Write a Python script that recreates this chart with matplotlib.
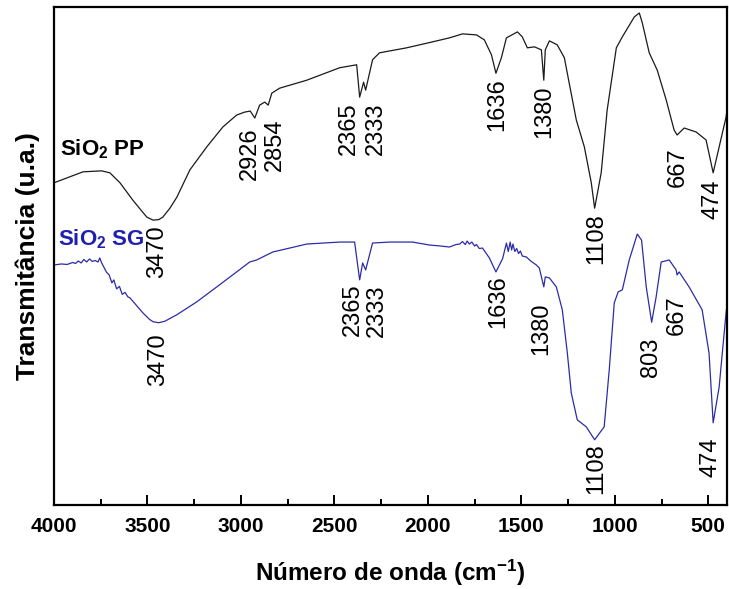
import numpy as np
import matplotlib.pyplot as plt
from matplotlib.ticker import MultipleLocator

plt.rcParams['font.family'] = ['Liberation Sans', 'DejaVu Sans']
plt.rcParams['mathtext.default'] = 'regular'

# Espectro FTIR - SiO2 PP (numero de onda, transmitancia u.a.)
pp_wn = np.array([4000, 3845, 3745, 3701, 3647, 3578, 3530, 3503, 3470, 3440, 3418, 3380, 3343,
                  3273, 3183, 3097, 3023, 2980, 2950, 2926, 2900, 2873, 2854,
                  2835, 2793, 2648, 2472, 2381, 2365, 2344, 2333, 2296, 2259,
                  2114, 1975, 1885, 1815, 1740, 1698, 1660, 1636, 1607, 1580,
                  1521, 1495, 1468, 1430, 1393, 1380, 1372, 1350, 1308, 1270,
                  1244, 1206, 1163, 1126, 1108, 1073, 1041, 992, 960, 896,
                  869, 853, 816, 773, 725, 683, 667, 629, 565, 512,
                  474, 442, 405, 400])
pp_t = np.array([64.7, 66.9, 67.1, 66.7, 64.7, 61.2, 59.0, 57.8, 57.2, 57.3, 57.8, 59.6, 61.8,
                 67.3, 71.9, 75.9, 78.3, 78.9, 79.1, 77.7, 80.3, 80.9, 80.3,
                 82.7, 83.7, 85.3, 87.8, 88.4, 81.9, 84.9, 83.3, 89.4, 90.8,
                 91.8, 93.0, 93.8, 94.6, 94.4, 93.4, 90.4, 86.7, 89.8, 93.8,
                 95.0, 94.0, 91.8, 92.0, 91.4, 85.3, 91.4, 93.2, 92.4, 89.8,
                 84.7, 77.3, 71.9, 64.7, 59.6, 66.7, 79.3, 91.8, 94.0, 98.0,
                 98.8, 96.8, 90.8, 87.3, 81.3, 75.3, 74.3, 75.7, 74.9, 73.3,
                 66.7, 71.9, 77.9, 79.3])

# Espectro FTIR - SiO2 SG
sg_wn = np.array([4000, 3960, 3930, 3900, 3885, 3870, 3855, 3840, 3825, 3810,
                  3795, 3780, 3765, 3755, 3745, 3735, 3720, 3705, 3690, 3680,
                  3665, 3650, 3635, 3620, 3605, 3594, 3525, 3490, 3470, 3440, 3407, 3343,
                  3236, 3129, 3023, 2953, 2916, 2830, 2648, 2472, 2392, 2365,
                  2349, 2333, 2296, 2205, 2082, 1991, 1930, 1885, 1850, 1830,
                  1815, 1800, 1790, 1778, 1765, 1750, 1740, 1725, 1708, 1671,
                  1636, 1600, 1580, 1570, 1560, 1552, 1545, 1535, 1525, 1515,
                  1505, 1495, 1473, 1450, 1420, 1404, 1380, 1372, 1350, 1313,
                  1281, 1254, 1233, 1201, 1153, 1108, 1057, 1030, 1003, 982,
                  960, 923, 880, 857, 832, 803, 779, 752, 709, 672,
                  667, 656, 603, 533, 496, 474, 442, 405, 400])
sg_t = np.array([48.2, 48.4, 48.3, 48.7, 48.5, 49.0, 48.6, 49.3, 48.8, 49.4,
                 48.9, 49.1, 48.8, 49.6, 48.6, 47.9, 46.8, 46.2, 44.6, 45.2,
                 43.4, 43.9, 42.3, 42.7, 41.8, 41.6, 38.6, 37.3, 36.8, 36.6, 36.9, 38.2,
                 40.8, 43.8, 46.8, 48.8, 49.2, 50.8, 52.4, 52.8, 52.8, 45.2,
                 48.6, 47.2, 52.6, 52.8, 52.8, 52.2, 52.0, 51.8, 52.3, 52.4,
                 52.9, 52.3, 53.0, 52.4, 52.8, 52.0, 52.3, 51.5, 51.6, 49.6,
                 46.8, 49.5, 52.6, 50.9, 52.8, 51.2, 52.4, 50.9, 51.5, 50.5,
                 51.0, 50.0, 49.8, 49.0, 48.2, 47.6, 43.8, 45.8, 45.6, 43.8,
                 39.2, 30.5, 22.5, 17.1, 15.7, 13.1, 15.7, 27.1, 40.6, 42.8,
                 43.2, 49.2, 54.4, 53.2, 43.8, 36.7, 41.8, 48.8, 49.2, 47.2,
                 46.2, 46.8, 43.8, 39.2, 30.5, 16.5, 23.7, 38.6, 40.2])

# Bandas indicadas em cada espectro
pp_peaks = ['3470', '2926', '2854', '2365', '2333', '1636', '1380', '1108', '667', '474']
sg_peaks = ['3470', '2365', '2333', '1636', '1380', '1108', '803', '667', '474']

# posicao (x, topo) de cada rotulo de banda
pp_lbl_x = [3450, 2953, 2819, 2424, 2280, 1628, 1377, 1099, 661, 480]
pp_lbl_y = [56.2, 75.9, 77.7, 80.9, 80.9, 85.7, 84.3, 58.6, 71.9, 65.3]
sg_lbl_x = [3444, 2403, 2275, 1623, 1393, 1099, 805, 667, 490]
sg_lbl_y = [34.5, 44.6, 44.2, 46.2, 40.6, 12.4, 33.7, 42.2, 13.5]

azul = '#1f1fb0'

fig = plt.figure(figsize=(7.29, 5.89), dpi=100)
ax = fig.add_axes([54 / 729, 84 / 589, 673 / 729, 498 / 589])

ax.plot(pp_wn, pp_t, color='#1a1a1a', lw=0.9)
ax.plot(sg_wn, sg_t, color='#2c2ca8', lw=0.9)

for txt, x, y in zip(pp_peaks, pp_lbl_x, pp_lbl_y):
    ax.text(x, y, txt, rotation=90, ha='center', va='top', fontsize=17, color='black')
for txt, x, y in zip(sg_peaks, sg_lbl_x, sg_lbl_y):
    ax.text(x, y, txt, rotation=90, ha='center', va='top', fontsize=17, color='black')

ax.text(3968, 70.3, 'SiO$_2$ PP', fontsize=16, fontweight='bold', color='black')
ax.text(3979, 52.2, 'SiO$_2$ SG', fontsize=16, fontweight='bold', color=azul)

ax.set_xlim(4000, 400)
ax.set_ylim(0, 100)
ax.set_yticks([])
ax.xaxis.set_major_locator(MultipleLocator(500))
ax.xaxis.set_minor_locator(MultipleLocator(250))
ax.tick_params(axis='x', which='major', direction='in', length=7, width=1.4,
               labelsize=15, pad=9)
ax.tick_params(axis='x', which='minor', direction='in', length=4.5, width=1.4)
for lbl in ax.get_xticklabels():
    lbl.set_fontweight('bold')
for s in ax.spines.values():
    s.set_linewidth(1.6)

ax.set_xlabel('Número de onda (cm$^{-1}$)', fontsize=17.5, fontweight='bold', labelpad=15)
ax.set_ylabel('Transmitância (u.a.)', fontsize=19, fontweight='bold', labelpad=10)

fig.savefig('out.png', dpi=100)
